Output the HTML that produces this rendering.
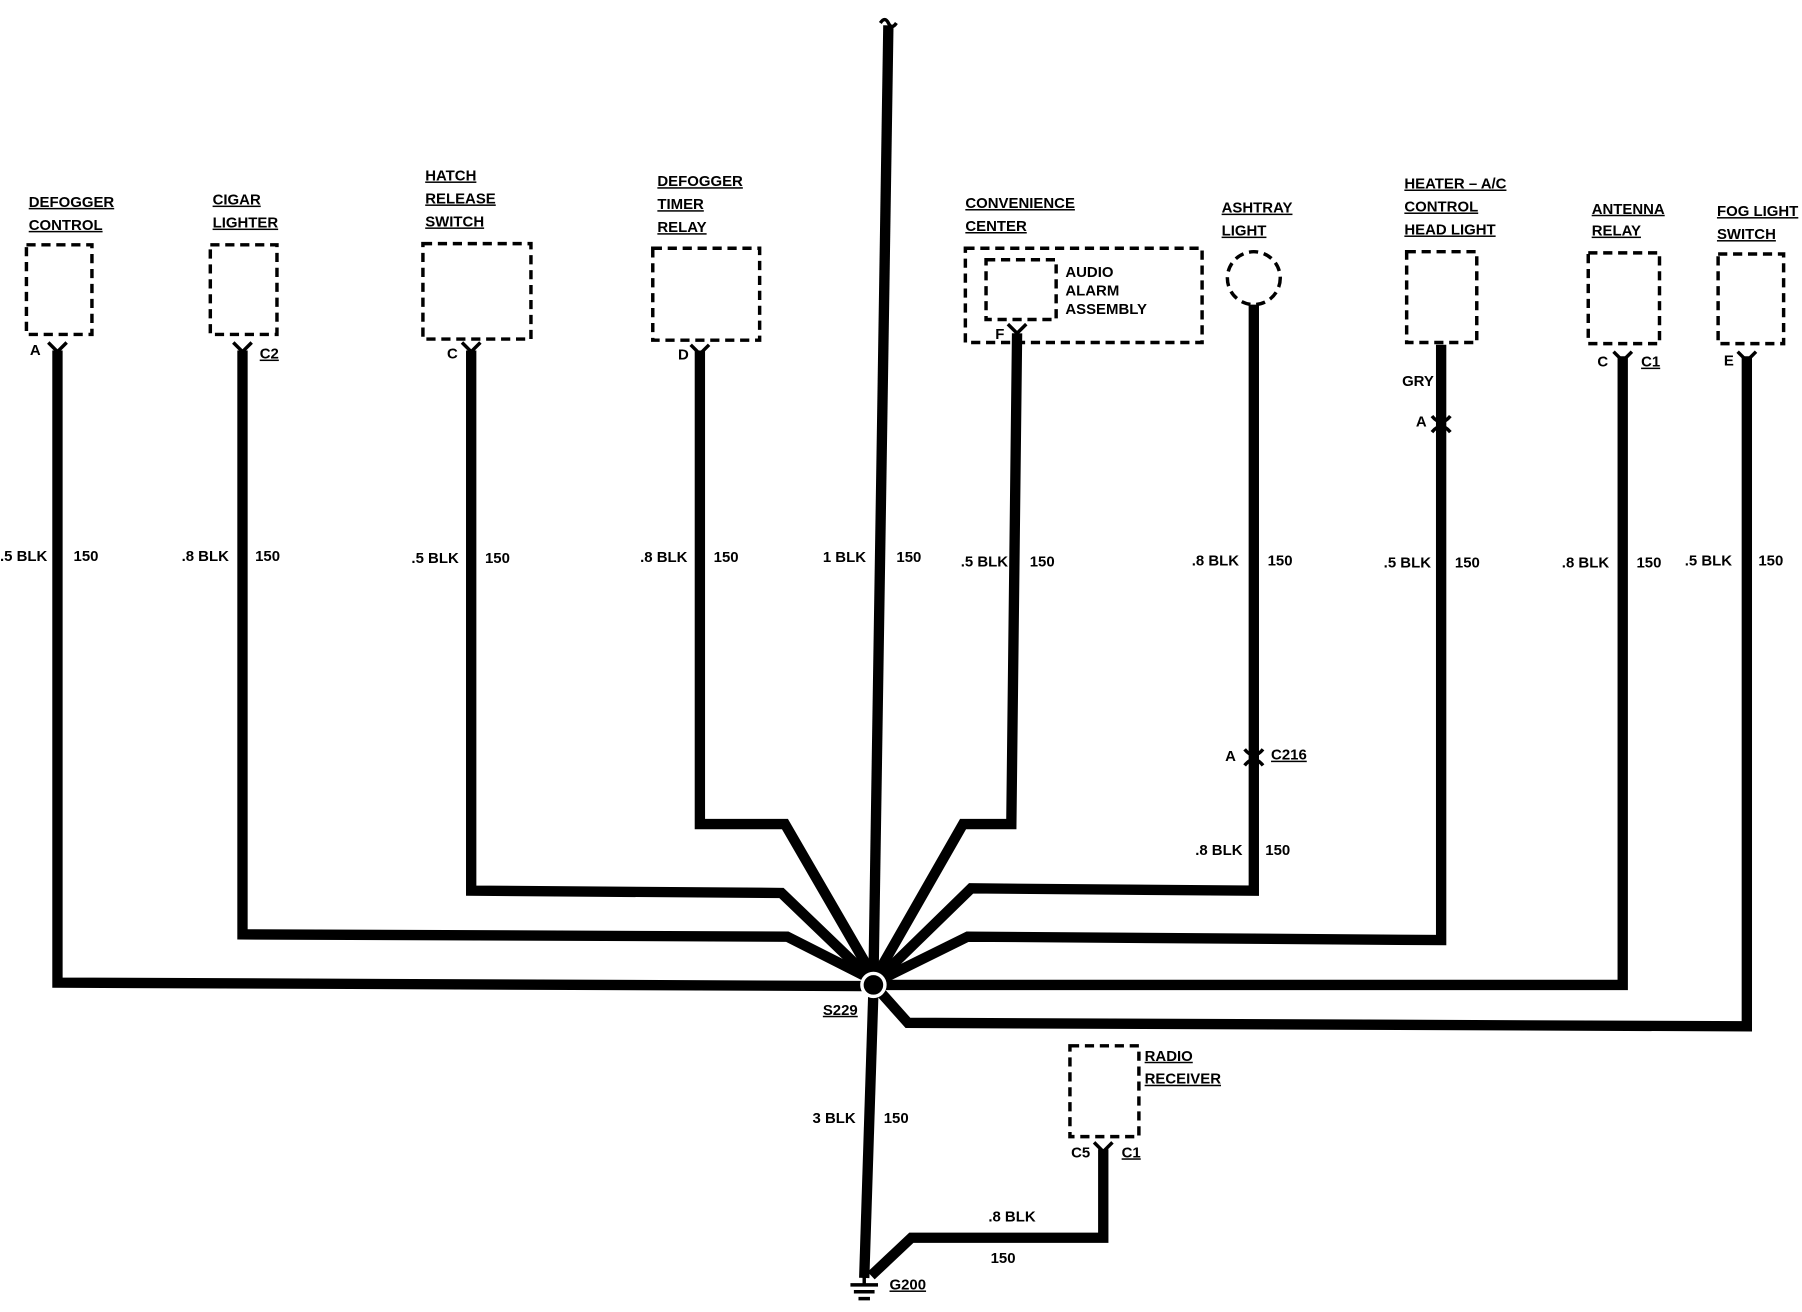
<!DOCTYPE html>
<html><head><meta charset="utf-8"><style>
html,body{margin:0;padding:0;background:#fff}
svg{display:block}
text{font-family:"Liberation Sans",sans-serif;font-weight:bold;font-size:13px;fill:#000}
.u{text-decoration:underline}
</style></head><body>
<svg width="1802" height="1312" viewBox="0 0 1568 1141.6" xmlns="http://www.w3.org/2000/svg">
<g fill="none" stroke="#000" stroke-width="9" stroke-linejoin="miter">
<polyline points="50,305 50,855 750,858"/>
<polyline points="211,305 211,813 685,815 758,852"/>
<polyline points="410,305 410,775 680,777 758,852"/>
<polyline points="609,305 609,717 683,717 760,850"/>
<polyline points="773,22 760,855"/>
<polyline points="885,290 880,717 838,717 762,850"/>
<polyline points="1091,265 1091,775 845,773 764,852"/>
<polyline points="1254,300 1254,818 842,815 765,853"/>
<polyline points="1412,310 1412,857 770,857"/>
<polyline points="1520,310 1520,893 790,890 765,862"/>
<polyline points="760,862 752,1112"/>
<polyline points="960,1000 960,1077 793,1077 758,1110"/>
</g>
<circle cx="760" cy="857" r="10" fill="#000" stroke="#fff" stroke-width="3"/>
<g fill="none" stroke="#000" stroke-width="3" stroke-dasharray="8,5">
<rect x="23" y="213" width="57" height="78"/>
<rect x="183" y="213" width="58" height="78"/>
<rect x="368" y="212" width="94" height="83"/>
<rect x="568" y="216" width="93" height="80"/>
<rect x="840" y="216" width="206" height="82"/>
<rect x="858" y="226" width="61" height="52"/>
<circle cx="1091" cy="242" r="23"/>
<rect x="1224" y="219" width="61" height="79"/>
<rect x="1382" y="220" width="62" height="79"/>
<rect x="1495" y="221" width="57" height="78"/>
<rect x="931" y="910" width="60" height="79"/>
</g>
<g fill="none" stroke="#000" stroke-width="3">
<path d="M42,298 L50,306 L58,298"/><path d="M203,298 L211,306 L219,298"/>
<path d="M402,298 L410,306 L418,298"/><path d="M601,300 L609,308 L617,300"/>
<path d="M877,282 L885,290 L893,282"/><path d="M1404,306 L1412,314 L1420,306"/>
<path d="M1512,306 L1520,314 L1528,306"/><path d="M952,994 L960,1002 L968,994"/>
<path d="M1246,362 Q1254,372 1262,362 M1246,376 Q1254,366 1262,376"/>
<path d="M1083,652 Q1091,662 1099,652 M1083,666 Q1091,656 1099,666"/>
<path d="M766,20 Q770,14 773,20 Q776,26 780,20"/>
<path d="M740,1118 h24 M743,1124 h18 M747,1130 h10 M752,1110 v8"/>
</g>
<g>
<text x="25" y="180" class="u">DEFOGGER</text><text x="25" y="200" class="u">CONTROL</text>
<text x="185" y="178" class="u">CIGAR</text><text x="185" y="198" class="u">LIGHTER</text>
<text x="370" y="157" class="u">HATCH</text><text x="370" y="177" class="u">RELEASE</text><text x="370" y="197" class="u">SWITCH</text>
<text x="572" y="162" class="u">DEFOGGER</text><text x="572" y="182" class="u">TIMER</text><text x="572" y="202" class="u">RELAY</text>
<text x="840" y="181" class="u">CONVENIENCE</text><text x="840" y="201" class="u">CENTER</text>
<text x="927" y="241">AUDIO</text><text x="927" y="257">ALARM</text><text x="927" y="273">ASSEMBLY</text>
<text x="1063" y="185" class="u">ASHTRAY</text><text x="1063" y="205" class="u">LIGHT</text>
<text x="1222" y="164" class="u">HEATER – A/C</text><text x="1222" y="184" class="u">CONTROL</text><text x="1222" y="204" class="u">HEAD LIGHT</text>
<text x="1385" y="186" class="u">ANTENNA</text><text x="1385" y="205" class="u">RELAY</text>
<text x="1494" y="188" class="u">FOG LIGHT</text><text x="1494" y="208" class="u">SWITCH</text>
<text x="996" y="923" class="u">RADIO</text><text x="996" y="943" class="u">RECEIVER</text>
<text x="26" y="309">A</text><text x="226" y="312" class="u">C2</text><text x="389" y="312">C</text>
<text x="590" y="313">D</text><text x="866" y="295">F</text>
<text x="1220" y="336">GRY</text><text x="1232" y="371">A</text>
<text x="1390" y="319">C</text><text x="1428" y="319" class="u">C1</text><text x="1500" y="318">E</text>
<text x="1066" y="662">A</text><text x="1106" y="661" class="u">C216</text>
<text x="1040" y="744">.8 BLK</text><text x="1101" y="744">150</text>
<text x="0" y="488">.5 BLK</text><text x="64" y="488">150</text>
<text x="158" y="488">.8 BLK</text><text x="222" y="488">150</text>
<text x="358" y="490">.5 BLK</text><text x="422" y="490">150</text>
<text x="557" y="489">.8 BLK</text><text x="621" y="489">150</text>
<text x="716" y="489">1 BLK</text><text x="780" y="489">150</text>
<text x="836" y="493">.5 BLK</text><text x="896" y="493">150</text>
<text x="1037" y="492">.8 BLK</text><text x="1103" y="492">150</text>
<text x="1204" y="494">.5 BLK</text><text x="1266" y="494">150</text>
<text x="1359" y="494">.8 BLK</text><text x="1424" y="494">150</text>
<text x="1466" y="492">.5 BLK</text><text x="1530" y="492">150</text>
<text x="716" y="883" class="u">S229</text>
<text x="707" y="977">3 BLK</text><text x="769" y="977">150</text>
<text x="932" y="1007">C5</text><text x="976" y="1007" class="u">C1</text>
<text x="860" y="1063">.8 BLK</text><text x="862" y="1099">150</text>
<text x="774" y="1122" class="u">G200</text>
</g>
</svg>
</body></html>
